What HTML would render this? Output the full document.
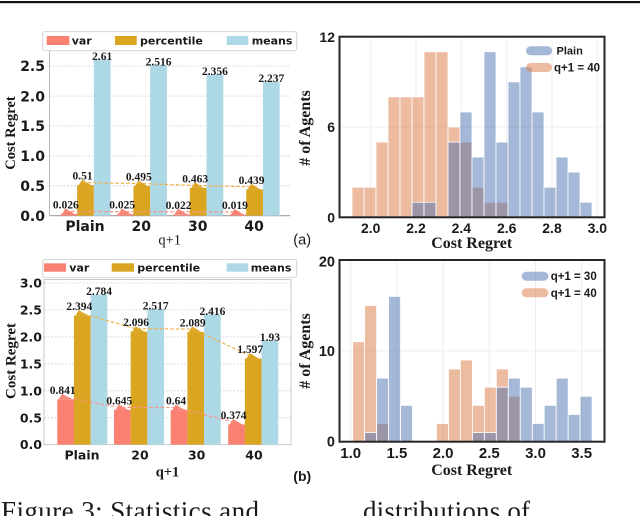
<!DOCTYPE html>
<html><head><meta charset="utf-8"><style>
html,body{margin:0;padding:0;background:#fff;}
svg{display:block;}
.tk{font-family:"DejaVu Sans",sans-serif;font-weight:bold;fill:#1a1a1a;}
.hs{font-family:"Liberation Sans",Arial,sans-serif;font-weight:bold;fill:#1a1a1a;}
.sf{font-family:"Liberation Serif","Times New Roman",serif;fill:#1a1a1a;}
.vl{font-family:"Liberation Serif","Times New Roman",serif;font-weight:bold;font-size:11.5px;fill:#1a1a1a;text-anchor:middle;}
</style></head><body>
<svg width="640" height="516" viewBox="0 0 640 516" xmlns="http://www.w3.org/2000/svg">
<rect x="0" y="0" width="640" height="516" fill="#fff"/>
<rect x="0" y="1" width="640" height="2.2" fill="#111"/>

<!-- ============ TOP-LEFT BAR CHART ============ -->
<g stroke="#dcdcdc" stroke-width="1" stroke-dasharray="2,1.5">
<line x1="49.5" y1="185.7" x2="290" y2="185.7"/>
<line x1="49.5" y1="155.9" x2="290" y2="155.9"/>
<line x1="49.5" y1="126" x2="290" y2="126"/>
<line x1="49.5" y1="96.1" x2="290" y2="96.1"/>
<line x1="49.5" y1="66" x2="290" y2="66"/>
</g>
<line x1="49.5" y1="50" x2="49.5" y2="215.6" stroke="#bbb" stroke-width="1"/>
<line x1="49.5" y1="215.6" x2="290" y2="215.6" stroke="#aaa" stroke-width="1.2"/>
<g fill="#FA8072">
<rect x="60.5" y="214.04" width="16.7" height="1.56"/>
<rect x="116.8" y="214.1" width="16.7" height="1.5"/>
<rect x="173.2" y="214.28" width="16.7" height="1.32"/>
<rect x="229.6" y="214.46" width="16.7" height="1.14"/>
<polygon points="62,214.04 65.5,208.5 74.5,214.04"/>
<polygon points="118.3,214.1 121.8,208.6 130.8,214.1"/>
<polygon points="174.7,214.28 178.2,208.8 187.2,214.28"/>
<polygon points="231.1,214.46 234.6,209 243.6,214.46"/>
</g>
<g fill="#DAA520">
<rect x="77.15" y="185.08" width="16.7" height="30.52"/>
<rect x="133.45" y="185.97" width="16.7" height="29.63"/>
<rect x="189.85" y="187.89" width="16.7" height="27.71"/>
<rect x="246.25" y="189.33" width="16.7" height="26.27"/>
<polygon points="78.65,185.08 82.15,179.58 91.15,185.08"/>
<polygon points="134.95,185.97 138.45,180.47 147.45,185.97"/>
<polygon points="191.35,187.89 194.85,182.39 203.85,187.89"/>
<polygon points="247.75,189.33 251.25,183.83 260.25,189.33"/>
</g>
<g fill="#ADD8E6">
<rect x="93.85" y="59.39" width="16.7" height="156.21"/>
<rect x="150.15" y="65.02" width="16.7" height="150.58"/>
<rect x="206.55" y="74.59" width="16.7" height="141.01"/>
<rect x="262.95" y="81.72" width="16.7" height="133.88"/>
</g>
<polyline points="82.3,182.6 138.6,183.5 195,185.4 251.4,186.8" fill="none" stroke="#F2B24A" stroke-width="1.2" stroke-dasharray="3.5,2"/>
<polyline points="65.5,211.5 121.8,211.6 178.2,211.8 234.6,212" fill="none" stroke="#FB9585" stroke-width="1.2" stroke-dasharray="3.5,2"/>
<text class="vl" x="65.85" y="208.5">0.026</text>
<text class="vl" x="122.15" y="208.6">0.025</text>
<text class="vl" x="178.55" y="208.8">0.022</text>
<text class="vl" x="234.95" y="209">0.019</text>
<text class="vl" x="82.5" y="179.6">0.51</text>
<text class="vl" x="138.8" y="180.5">0.495</text>
<text class="vl" x="195.2" y="182.4">0.463</text>
<text class="vl" x="251.6" y="183.8">0.439</text>
<text class="vl" x="102.2" y="60">2.61</text>
<text class="vl" x="158.5" y="65.5">2.516</text>
<text class="vl" x="214.9" y="75">2.356</text>
<text class="vl" x="271.3" y="82">2.237</text>
<!-- legend -->
<rect x="42.7" y="31.7" width="254" height="19" rx="2" fill="#fff" stroke="#cfcfcf" stroke-width="0.9"/>
<rect x="46.7" y="36" width="22.6" height="9" fill="#FA8072"/>
<rect x="115" y="36" width="21.7" height="9" fill="#DAA520"/>
<rect x="226.7" y="36" width="21.6" height="9" fill="#ADD8E6"/>
<text class="tk" x="71.7" y="44.6" font-size="11">var</text>
<text class="tk" x="140" y="44.6" font-size="11">percentile</text>
<text class="tk" x="251.7" y="44.6" font-size="11">means</text>
<!-- ticks -->
<g class="tk" font-size="14" text-anchor="end">
<text x="45" y="220.8">0.0</text>
<text x="45" y="190.9">0.5</text>
<text x="45" y="161.1">1.0</text>
<text x="45" y="131.2">1.5</text>
<text x="45" y="101.3">2.0</text>
<text x="45" y="71.2">2.5</text>
</g>
<g class="tk" font-size="14" text-anchor="middle">
<text x="85" y="231">Plain</text>
<text x="141.3" y="231">20</text>
<text x="197.7" y="231">30</text>
<text x="254.1" y="231">40</text>
</g>
<text class="sf" x="169.7" y="244.5" font-size="14.5" text-anchor="middle">q+1</text>
<text class="sf" transform="translate(15,133) rotate(-90)" font-size="14.5" font-weight="bold" text-anchor="middle">Cost Regret</text>
<text x="293.3" y="244.5" font-family="Liberation Sans,Arial,sans-serif" font-size="14.5" fill="#1a1a1a">(a)</text>

<!-- ============ TOP-RIGHT HISTOGRAM ============ -->
<g stroke="#ececec" stroke-width="1">
<line x1="370.7" y1="36.7" x2="370.7" y2="217.3"/>
<line x1="416" y1="36.7" x2="416" y2="217.3"/>
<line x1="461.3" y1="36.7" x2="461.3" y2="217.3"/>
<line x1="506.7" y1="36.7" x2="506.7" y2="217.3"/>
<line x1="552" y1="36.7" x2="552" y2="217.3"/>
<line x1="597.3" y1="36.7" x2="597.3" y2="217.3"/>
<line x1="339.5" y1="127" x2="604.5" y2="127"/>
</g>
<g transform="translate(0,217.3) scale(1,-15.05)" stroke="#fff" stroke-width="0.8">
<g fill="#DD8452" fill-opacity="0.55">
<rect vector-effect="non-scaling-stroke" x="352" y="0" width="12" height="2"/>
<rect vector-effect="non-scaling-stroke" x="364" y="0" width="12" height="2"/>
<rect vector-effect="non-scaling-stroke" x="376" y="0" width="12" height="5"/>
<rect vector-effect="non-scaling-stroke" x="388" y="0" width="12" height="8"/>
<rect vector-effect="non-scaling-stroke" x="400" y="0" width="12" height="8"/>
<rect vector-effect="non-scaling-stroke" x="412" y="0" width="12" height="8"/>
<rect vector-effect="non-scaling-stroke" x="424" y="0" width="12" height="11"/>
<rect vector-effect="non-scaling-stroke" x="436" y="0" width="12" height="11"/>
<rect vector-effect="non-scaling-stroke" x="448" y="0" width="12" height="6"/>
<rect vector-effect="non-scaling-stroke" x="460" y="0" width="12" height="5"/>
<rect vector-effect="non-scaling-stroke" x="472" y="0" width="12" height="2"/>
<rect vector-effect="non-scaling-stroke" x="484" y="0" width="12" height="1"/>
<rect vector-effect="non-scaling-stroke" x="496" y="0" width="12" height="1"/>
</g>
<g fill="#4C72B0" fill-opacity="0.5">
<rect vector-effect="non-scaling-stroke" x="412" y="0" width="12" height="1"/>
<rect vector-effect="non-scaling-stroke" x="424" y="0" width="12" height="1"/>
<rect vector-effect="non-scaling-stroke" x="448" y="0" width="12" height="5"/>
<rect vector-effect="non-scaling-stroke" x="460" y="0" width="12" height="7"/>
<rect vector-effect="non-scaling-stroke" x="472" y="0" width="12" height="4"/>
<rect vector-effect="non-scaling-stroke" x="484" y="0" width="12" height="11"/>
<rect vector-effect="non-scaling-stroke" x="496" y="0" width="12" height="5"/>
<rect vector-effect="non-scaling-stroke" x="508" y="0" width="12" height="9"/>
<rect vector-effect="non-scaling-stroke" x="520" y="0" width="12" height="10"/>
<rect vector-effect="non-scaling-stroke" x="532" y="0" width="12" height="7"/>
<rect vector-effect="non-scaling-stroke" x="544" y="0" width="12" height="2"/>
<rect vector-effect="non-scaling-stroke" x="556" y="0" width="12" height="4"/>
<rect vector-effect="non-scaling-stroke" x="568" y="0" width="12" height="3"/>
<rect vector-effect="non-scaling-stroke" x="580" y="0" width="12" height="1"/>
</g>
</g>
<rect x="339.5" y="36.7" width="265" height="180.6" fill="none" stroke="#262626" stroke-width="2"/>
<rect x="526" y="46.3" width="26" height="9" rx="4.5" fill="#4C72B0" fill-opacity="0.5"/>
<rect x="526" y="63" width="26" height="9" rx="4.5" fill="#DD8452" fill-opacity="0.55"/>
<text class="hs" x="556.5" y="54.5" font-size="11">Plain</text>
<text class="hs" x="554" y="71.5" font-size="11.5">q+1 = 40</text>
<g class="hs" font-size="14" text-anchor="middle">
<text x="370.7" y="233">2.0</text>
<text x="416" y="233">2.2</text>
<text x="461.3" y="233">2.4</text>
<text x="506.7" y="233">2.6</text>
<text x="552" y="233">2.8</text>
<text x="597.3" y="233">3.0</text>
</g>
<g class="hs" font-size="14" text-anchor="end">
<text x="335" y="42">12</text>
<text x="335" y="132">6</text>
<text x="335" y="222.3">0</text>
</g>
<text class="sf" x="471.7" y="248" font-size="16" font-weight="bold" text-anchor="middle">Cost Regret</text>
<text class="sf" transform="translate(310,128) rotate(-90)" font-size="16" font-weight="bold" text-anchor="middle"># of Agents</text>

<!-- ============ BOTTOM-LEFT BAR CHART ============ -->
<g stroke="#dcdcdc" stroke-width="1" stroke-dasharray="2,1.5">
<line x1="44" y1="417.7" x2="291" y2="417.7"/>
<line x1="44" y1="390.7" x2="291" y2="390.7"/>
<line x1="44" y1="363.8" x2="291" y2="363.8"/>
<line x1="44" y1="336.9" x2="291" y2="336.9"/>
<line x1="44" y1="309.9" x2="291" y2="309.9"/>
<line x1="44" y1="283" x2="291" y2="283"/>
</g>
<rect x="44" y="279.5" width="247" height="165.1" fill="none" stroke="#c8c8c8" stroke-width="1"/>
<g fill="#FA8072">
<rect x="57.3" y="399.3" width="16.7" height="45.3"/>
<rect x="114" y="409.85" width="16.7" height="34.75"/>
<rect x="170.7" y="410.12" width="16.7" height="34.48"/>
<rect x="228.2" y="424.45" width="16.7" height="20.15"/>
<polygon points="58.8,399.3 62.3,393.8 71.3,399.3"/>
<polygon points="115.5,409.85 119,404.35 128,409.85"/>
<polygon points="172.2,410.12 175.7,404.62 184.7,410.12"/>
<polygon points="229.7,424.45 233.2,418.95 242.2,424.45"/>
</g>
<g fill="#DAA520">
<rect x="73.95" y="315.63" width="16.7" height="128.97"/>
<rect x="130.65" y="331.69" width="16.7" height="112.91"/>
<rect x="187.35" y="332.06" width="16.7" height="112.54"/>
<rect x="244.85" y="358.57" width="16.7" height="86.03"/>
<polygon points="75.45,315.63 78.95,310.13 87.95,315.63"/>
<polygon points="132.15,331.69 135.65,326.19 144.65,331.69"/>
<polygon points="188.85,332.06 192.35,326.56 201.35,332.06"/>
<polygon points="246.35,358.57 249.85,353.07 258.85,358.57"/>
</g>
<g fill="#ADD8E6">
<rect x="90.65" y="294.63" width="16.7" height="149.97"/>
<rect x="147.35" y="309.01" width="16.7" height="135.59"/>
<rect x="204.05" y="314.45" width="16.7" height="130.15"/>
<rect x="261.55" y="340.63" width="16.7" height="103.97"/>
</g>
<polyline points="79,312.6 135.7,328.7 192.4,329.1 249.9,355.6" fill="none" stroke="#F2B24A" stroke-width="1.2" stroke-dasharray="3.5,2"/>
<polyline points="62.5,396.8 119.2,407.3 175.9,407.6 233.4,421.9" fill="none" stroke="#FB9585" stroke-width="1.2" stroke-dasharray="3.5,2"/>
<text class="vl" x="62.65" y="393.8">0.841</text>
<text class="vl" x="119.35" y="404.35">0.645</text>
<text class="vl" x="176.05" y="404.6">0.64</text>
<text class="vl" x="233.55" y="418.95">0.374</text>
<text class="vl" x="79.3" y="310.1">2.394</text>
<text class="vl" x="136" y="326.2">2.096</text>
<text class="vl" x="192.7" y="326.6">2.089</text>
<text class="vl" x="250.2" y="353.1">1.597</text>
<text class="vl" x="99" y="295.1">2.784</text>
<text class="vl" x="155.7" y="309.5">2.517</text>
<text class="vl" x="212.4" y="315">2.416</text>
<text class="vl" x="269.9" y="341.1">1.93</text>
<!-- legend -->
<rect x="42.7" y="259.3" width="254" height="18" rx="2" fill="#fff" stroke="#cfcfcf" stroke-width="0.9"/>
<rect x="44" y="263.3" width="22" height="8.4" fill="#FA8072"/>
<rect x="111.7" y="263.3" width="22.3" height="8.4" fill="#DAA520"/>
<rect x="226.7" y="263.3" width="21.6" height="8.4" fill="#ADD8E6"/>
<text class="tk" x="69.3" y="271.5" font-size="11">var</text>
<text class="tk" x="137.3" y="271.5" font-size="11">percentile</text>
<text class="tk" x="250.7" y="271.5" font-size="11">means</text>
<g class="tk" font-size="12.5" text-anchor="end">
<text x="42" y="449.2">0.0</text>
<text x="42" y="422.3">0.5</text>
<text x="42" y="395.3">1.0</text>
<text x="42" y="368.4">1.5</text>
<text x="42" y="341.5">2.0</text>
<text x="42" y="314.5">2.5</text>
<text x="42" y="287.6">3.0</text>
</g>
<g class="tk" font-size="12.5" text-anchor="middle">
<text x="82" y="459.5">Plain</text>
<text x="140" y="459.5">20</text>
<text x="196.7" y="459.5">30</text>
<text x="254" y="459.5">40</text>
</g>
<text class="sf" x="167.5" y="476.5" font-size="14.5" font-weight="bold" text-anchor="middle">q+1</text>
<text class="sf" transform="translate(15.5,361) rotate(-90)" font-size="15" font-weight="bold" text-anchor="middle">Cost Regret</text>
<text x="293.3" y="481" font-family="Liberation Sans,Arial,sans-serif" font-size="14" font-weight="bold" fill="#1a1a1a">(b)</text>

<!-- ============ BOTTOM-RIGHT HISTOGRAM ============ -->
<g stroke="#ececec" stroke-width="1">
<line x1="350.7" y1="260" x2="350.7" y2="441.7"/>
<line x1="396.9" y1="260" x2="396.9" y2="441.7"/>
<line x1="443.1" y1="260" x2="443.1" y2="441.7"/>
<line x1="489.3" y1="260" x2="489.3" y2="441.7"/>
<line x1="535.5" y1="260" x2="535.5" y2="441.7"/>
<line x1="581.7" y1="260" x2="581.7" y2="441.7"/>
<line x1="339.5" y1="350.85" x2="604.5" y2="350.85"/>
</g>
<g transform="translate(0,441.7) scale(1,-9.085)" stroke="#fff" stroke-width="0.8">
<g fill="#DD8452" fill-opacity="0.55">
<rect vector-effect="non-scaling-stroke" x="352.7" y="0" width="11.97" height="11"/>
<rect vector-effect="non-scaling-stroke" x="364.67" y="0" width="11.97" height="15"/>
<rect vector-effect="non-scaling-stroke" x="376.64" y="0" width="11.97" height="2"/>
<rect vector-effect="non-scaling-stroke" x="436.49" y="0" width="11.97" height="2"/>
<rect vector-effect="non-scaling-stroke" x="448.46" y="0" width="11.97" height="8"/>
<rect vector-effect="non-scaling-stroke" x="460.43" y="0" width="11.97" height="9"/>
<rect vector-effect="non-scaling-stroke" x="472.4" y="0" width="11.97" height="4"/>
<rect vector-effect="non-scaling-stroke" x="484.37" y="0" width="11.97" height="6"/>
<rect vector-effect="non-scaling-stroke" x="496.34" y="0" width="11.97" height="8"/>
<rect vector-effect="non-scaling-stroke" x="508.31" y="0" width="11.97" height="5"/>
</g>
<g fill="#4C72B0" fill-opacity="0.5">
<rect vector-effect="non-scaling-stroke" x="364.67" y="0" width="11.97" height="1"/>
<rect vector-effect="non-scaling-stroke" x="376.64" y="0" width="11.97" height="7"/>
<rect vector-effect="non-scaling-stroke" x="388.61" y="0" width="11.97" height="16"/>
<rect vector-effect="non-scaling-stroke" x="400.58" y="0" width="11.97" height="4"/>
<rect vector-effect="non-scaling-stroke" x="472.4" y="0" width="11.97" height="1"/>
<rect vector-effect="non-scaling-stroke" x="484.37" y="0" width="11.97" height="1"/>
<rect vector-effect="non-scaling-stroke" x="496.34" y="0" width="11.97" height="6"/>
<rect vector-effect="non-scaling-stroke" x="508.31" y="0" width="11.97" height="7"/>
<rect vector-effect="non-scaling-stroke" x="520.28" y="0" width="11.97" height="6"/>
<rect vector-effect="non-scaling-stroke" x="532.25" y="0" width="11.97" height="2"/>
<rect vector-effect="non-scaling-stroke" x="544.22" y="0" width="11.97" height="4"/>
<rect vector-effect="non-scaling-stroke" x="556.19" y="0" width="11.97" height="7"/>
<rect vector-effect="non-scaling-stroke" x="568.16" y="0" width="11.97" height="3"/>
<rect vector-effect="non-scaling-stroke" x="580.13" y="0" width="11.97" height="5"/>
</g>
</g>
<rect x="339.5" y="260" width="265" height="181.7" fill="none" stroke="#262626" stroke-width="2"/>
<rect x="521.7" y="271.7" width="26.7" height="9" rx="4.5" fill="#4C72B0" fill-opacity="0.5"/>
<rect x="521.7" y="288.3" width="26.7" height="9" rx="4.5" fill="#DD8452" fill-opacity="0.55"/>
<text class="hs" x="550.7" y="280.2" font-size="11.5">q+1 = 30</text>
<text class="hs" x="550.7" y="296.9" font-size="11.5">q+1 = 40</text>
<g class="hs" font-size="15" text-anchor="middle">
<text x="350.7" y="458">1.0</text>
<text x="396.9" y="458">1.5</text>
<text x="443.1" y="458">2.0</text>
<text x="489.3" y="458">2.5</text>
<text x="535.5" y="458">3.0</text>
<text x="581.7" y="458">3.5</text>
</g>
<g class="hs" font-size="14.5" text-anchor="end">
<text x="335" y="266.5">20</text>
<text x="335" y="356.2">10</text>
<text x="335" y="446.7">0</text>
</g>
<text class="sf" x="471.7" y="475" font-size="16" font-weight="bold" text-anchor="middle">Cost Regret</text>
<text class="sf" transform="translate(310,351) rotate(-90)" font-size="16" font-weight="bold" text-anchor="middle"># of Agents</text>

<!-- caption (cut off) -->
<text class="sf" x="1" y="520" font-size="27" textLength="258" lengthAdjust="spacing">Figure 3: Statistics and</text>
<text class="sf" x="363" y="520" font-size="27" textLength="167" lengthAdjust="spacing">distributions of</text>
</svg>
</body></html>
